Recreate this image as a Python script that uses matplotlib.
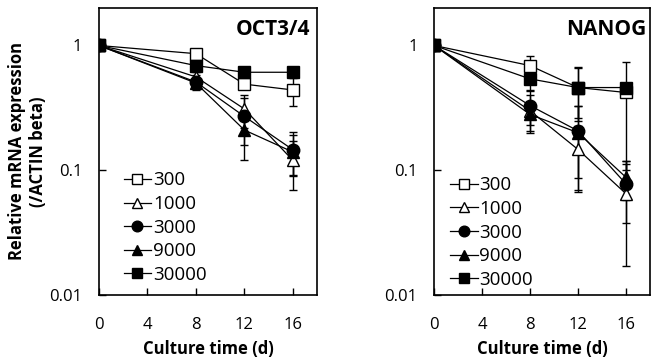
import matplotlib
matplotlib.use('Agg')
import matplotlib.pyplot as plt
import numpy as np

plt.rcParams['font.family'] = ['Open Sans', 'DejaVu Sans']

# culture days and cell densities
days = [0, 8, 12, 16]
densities = ['300', '1000', '3000', '9000', '30000']

# OCT3/4 means and errors
oct_vals = {
    '300':   [1, 0.86, 0.49, 0.44],
    '1000':  [1, 0.56, 0.31, 0.12],
    '3000':  [1, 0.51, 0.27, 0.146],
    '9000':  [1, 0.50, 0.21, 0.14],
    '30000': [1, 0.69, 0.61, 0.61],
}
oct_err = {
    '300':   [0, 0.05, 0.04, 0.11],
    '1000':  [0, 0.05, 0.09, 0.05],
    '3000':  [0, 0.07, 0.11, 0.055],
    '9000':  [0, 0.05, 0.09, 0.05],
    '30000': [0, 0.03, 0.03, 0.02],
}

# NANOG means and errors
nanog_vals = {
    '300':   [1, 0.69, 0.46, 0.42],
    '1000':  [1, 0.30, 0.147, 0.065],
    '3000':  [1, 0.33, 0.207, 0.078],
    '9000':  [1, 0.28, 0.20, 0.088],
    '30000': [1, 0.54, 0.46, 0.46],
}
nanog_err = {
    '300':   [0, 0.14, 0.21, 0.32],
    '1000':  [0, 0.10, 0.08, 0.048],
    '3000':  [0, 0.10, 0.12, 0.04],
    '9000':  [0, 0.075, 0.13, 0.03],
    '30000': [0, 0.10, 0.20, 0.02],
}

styles = {
    '300':   dict(marker='s', mfc='white'),
    '1000':  dict(marker='^', mfc='white'),
    '3000':  dict(marker='o', mfc='black'),
    '9000':  dict(marker='^', mfc='black'),
    '30000': dict(marker='s', mfc='black'),
}

fig = plt.figure(figsize=(6.51, 3.61), dpi=100)
ax1 = fig.add_axes([0.152, 0.183, 0.335, 0.795])
ax2 = fig.add_axes([0.667, 0.183, 0.331, 0.795])


def draw(ax, vals, errs, title, title_x, leg_anchor):
    handles = []
    for d in densities:
        c = ax.errorbar(days, vals[d], yerr=errs[d], color='black', lw=0.9,
                        elinewidth=1.0, capsize=3.2, capthick=1.0,
                        ms=9, mec='black', mew=1.0, label=d, **styles[d])
        handles.append(c.lines[0])
    ax.set_yscale('log')
    ax.set_ylim(0.01, 2)
    ax.set_xlim(0, 18)
    ax.set_xticks([0, 4, 8, 12, 16])
    ax.set_yticks([0.01, 0.1, 1])
    ax.set_yticklabels(['0.01', '0.1', '1'])
    ax.minorticks_off()
    ax.tick_params(direction='in', length=5, width=1, labelsize=12)
    ax.tick_params(axis='x', pad=16)
    ax.tick_params(axis='y', pad=12)
    for s in ax.spines.values():
        s.set_linewidth(1.2)
    ax.text(title_x, 0.96, title, transform=ax.transAxes, ha='right', va='top',
            fontsize=15, fontweight='bold')
    ax.set_xlabel('Culture time (d)', fontsize=12, fontweight='bold', labelpad=5)
    ax.legend(handles, densities, loc='lower left', bbox_to_anchor=leg_anchor,
              frameon=False, fontsize=13.5, handlelength=1.45, handletextpad=0.1,
              labelspacing=0.3, markerscale=0.85, borderaxespad=0.0)


draw(ax1, oct_vals, oct_err, 'OCT3/4', 0.968, (0.08, 0.012))
draw(ax2, nanog_vals, nanog_err, 'NANOG', 0.985, (0.04, -0.005))
ax1.set_ylabel('Relative mRNA expression\n(/ACTIN beta)', fontsize=12,
               fontweight='bold', linespacing=1.2)
ax1.yaxis.set_label_coords(-0.24, 0.5)

fig.savefig('out.png', dpi=100)
